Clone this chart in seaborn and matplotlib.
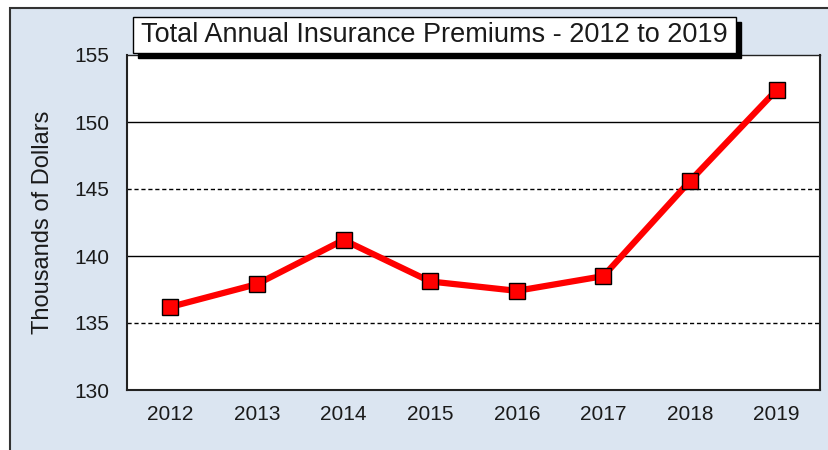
import matplotlib
matplotlib.use("Agg")
import matplotlib.pyplot as plt
import matplotlib.patches as mpatches
import seaborn as sns
import pandas as pd

years = [2012, 2013, 2014, 2015, 2016, 2017, 2018, 2019]
premiums = [136.2, 137.9, 141.2, 138.1, 137.4, 138.5, 145.6, 152.4]
yticks = [130, 135, 140, 145, 150, 155]
title = "Total Annual Insurance Premiums - 2012 to 2019"
ylabel = "Thousands of Dollars"

df = pd.DataFrame({"Year": years, "Premium": premiums})

sns.set_style("white")
plt.rcParams['font.family'] = ['Liberation Sans', 'DejaVu Sans']

W, H = 829, 450
fig = plt.figure(figsize=(W / 100, H / 100), dpi=100)
fig.patch.set_facecolor("white")

# outer light-blue panel with dark border
panel = mpatches.Rectangle((10 / W, -0.05), 1.0, 1 - 8 / H + 0.05,
                           transform=fig.transFigure, facecolor="#dbe5f1",
                           edgecolor="#333333", linewidth=1.5, zorder=-5)
fig.patches.append(panel)

ax = fig.add_axes([127 / W, 1 - 390 / H, (820 - 127) / W, (390 - 55) / H])
ax.set_zorder(1)
ax.set_facecolor("white")

ax.set_xlim(2011.5, 2019.5)
ax.set_ylim(130, 155)

for v in [140, 150]:
    ax.axhline(v, color="black", lw=1.0, zorder=1)
for v in [135, 145]:
    ax.axhline(v, color="black", lw=1.0, ls=(0, (3, 2)), zorder=1)

sns.lineplot(data=df, x="Year", y="Premium", ax=ax, color="#ff0000", lw=4.5,
             marker="s", markersize=11, markerfacecolor="#ff0000",
             markeredgecolor="black", markeredgewidth=1.0, zorder=3)

ax.set_xticks(years)
ax.set_xticklabels([str(y) for y in years], fontsize=15)
ax.set_yticks(yticks)
ax.set_yticklabels([str(v) for v in yticks], fontsize=15)
ax.tick_params(axis="x", direction="in", length=5, width=1, color="black", pad=11, labelcolor="#1a1a1a")
ax.tick_params(axis="y", length=0, pad=13, labelcolor="#1a1a1a")
ax.set_xlabel("")
ax.set_ylabel(ylabel, fontsize=17, color="#1a1a1a", labelpad=14)

for s in ["left", "bottom", "right"]:
    ax.spines[s].set_visible(True)
    ax.spines[s].set_color("#222222")
    ax.spines[s].set_linewidth(1.5)
ax.spines["top"].set_visible(True)
ax.spines["top"].set_color("#222222")
ax.spines["top"].set_linewidth(1.0)

# title box with shadow
bx0, by0, bx1, by1 = 133, 17, 736, 53
sh = mpatches.Rectangle(((bx0 + 5) / W, 1 - (by1 + 5) / H), (bx1 - bx0) / W, (by1 - by0) / H,
                        transform=fig.transFigure, facecolor="black", edgecolor="black", zorder=5)
box = mpatches.Rectangle((bx0 / W, 1 - by1 / H), (bx1 - bx0) / W, (by1 - by0) / H,
                         transform=fig.transFigure, facecolor="white", edgecolor="black",
                         linewidth=1.0, zorder=6)
fig.patches.append(sh)
fig.patches.append(box)
fig.text((bx0 + bx1) / 2 / W, 1 - (by0 + by1) / 2 / H, title, ha="center", va="center",
         fontsize=19.5, color="#1a1a1a", zorder=7)

fig.savefig("out.png", dpi=100)
